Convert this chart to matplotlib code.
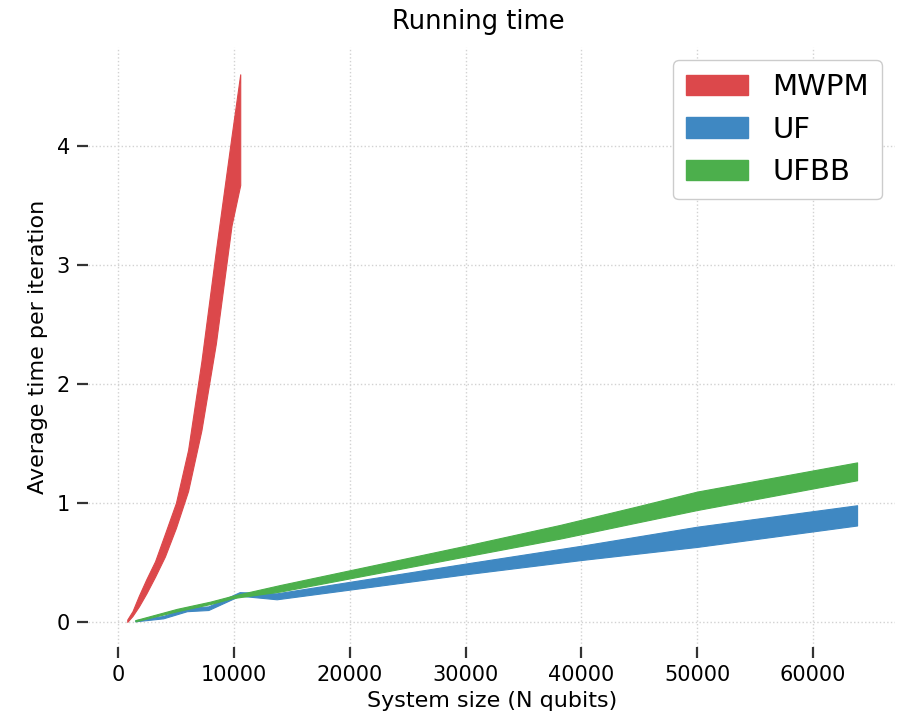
import matplotlib
matplotlib.use("Agg")
import matplotlib.pyplot as plt
from matplotlib.patches import Patch

# ---- data ----
mwpm_n = [800, 1250, 1800, 2450, 3200, 4050, 5000, 6050, 7200, 8450, 9800, 10550]
mwpm_hi = [0.02, 0.09, 0.22, 0.36, 0.51, 0.74, 1.00, 1.445, 2.19, 3.12, 4.08, 4.60]
mwpm_lo = [0.00, 0.05, 0.13, 0.24, 0.38, 0.55, 0.79, 1.10, 1.61, 2.34, 3.33, 3.67]

uf_n = [1500, 3900, 5950, 7800, 10500, 13700, 30000, 40000, 50000, 63800]
uf_lo = [0.005, 0.03, 0.09, 0.10, 0.22, 0.19, 0.40, 0.52, 0.63, 0.81]
uf_hi = [0.015, 0.05, 0.12, 0.13, 0.25, 0.24, 0.49, 0.64, 0.80, 0.98]

ufbb_n = [1500, 5100, 7950, 9900, 14000, 30000, 38170, 44800, 50000, 63800]
ufbb_lo = [0.005, 0.09, 0.15, 0.20, 0.255, 0.55, 0.70, 0.835, 0.94, 1.19]
ufbb_hi = [0.015, 0.11, 0.17, 0.22, 0.31, 0.64, 0.815, 0.97, 1.095, 1.34]

labels = ["MWPM", "UF", "UFBB"]
colors = ["#dc484b", "#3f88c2", "#4caf4c"]
xticks = [0, 10000, 20000, 30000, 40000, 50000, 60000]
yticks = [0, 1, 2, 3, 4]

fig = plt.figure(figsize=(8.98, 7.22), dpi=100)
ax = fig.add_axes([0.098, 0.104, 0.899, 0.831])

ax.fill_between(mwpm_n, mwpm_lo, mwpm_hi, color=colors[0], lw=0.8, edgecolor=colors[0])
ax.fill_between(uf_n, uf_lo, uf_hi, color=colors[1], lw=0.8, edgecolor=colors[1])
ax.fill_between(ufbb_n, ufbb_lo, ufbb_hi, color=colors[2], lw=0.8, edgecolor=colors[2])

ax.set_xlim(-2590, 67100)
ax.set_ylim(-0.21, 4.83)

for s in ax.spines.values():
    s.set_visible(False)
ax.grid(True, linestyle=":", color="#d2d2d2", linewidth=1.0)
ax.set_axisbelow(True)
ax.set_xticks(xticks)
ax.set_yticks(yticks)
ax.tick_params(axis="both", labelsize=15, length=8, width=1.6, color="#333333",
               direction="out", pad=5)

ax.set_title("Running time", fontsize=18.5, pad=13, x=0.484)
ax.set_xlabel("System size (N qubits)", fontsize=16, labelpad=4)
ax.set_ylabel("Average time per iteration", fontsize=16, labelpad=6)

handles = [Patch(facecolor=c, edgecolor=c) for c in colors]
leg = ax.legend(handles, labels, loc="upper right", fontsize=21, handlelength=2.1,
                handleheight=0.7, fancybox=True, framealpha=1.0, edgecolor="#cccccc",
                borderaxespad=0.45, handletextpad=0.85, labelspacing=0.5,
                borderpad=0.45)

fig.savefig("out.png", dpi=100)
